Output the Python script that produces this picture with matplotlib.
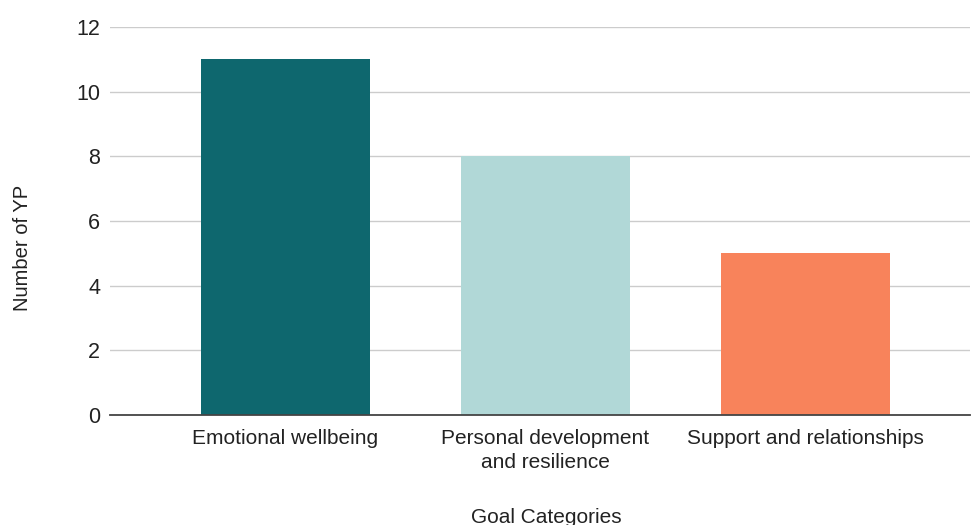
import matplotlib
matplotlib.use("Agg")
import matplotlib.pyplot as plt

categories = ["Emotional wellbeing", "Personal development\nand resilience", "Support and relationships"]
values = [11, 8, 5]
colors = ["#0e676e", "#b1d8d7", "#f8835b"]
yticks = [0, 2, 4, 6, 8, 10, 12]

plt.rcParams['font.family'] = ['Liberation Sans', 'DejaVu Sans']

fig = plt.figure(figsize=(9.72, 5.25), dpi=100)
ax = fig.add_axes([0.1132, 0.2095, 0.8848, 0.7391])

x = list(range(len(categories)))
ax.bar(x, values, width=0.65, color=colors, zorder=3)
ax.set_xlim(-0.675, 2.633)
ax.set_ylim(0, 12)
ax.set_yticks(yticks)
ax.set_yticklabels([str(v) for v in yticks], fontsize=15.5, color="#222222")
ax.set_xticks(x)
ax.set_xticklabels(categories, fontsize=15, color="#222222", linespacing=1.35)
ax.tick_params(axis='both', length=0)
ax.tick_params(axis='y', pad=7)
ax.tick_params(axis='x', pad=10)
ax.grid(axis='y', color="#cccccc", linewidth=1, zorder=0)
for s in ["top", "right", "left"]:
    ax.spines[s].set_visible(False)
ax.spines["bottom"].set_color("#444444")
ax.spines["bottom"].set_linewidth(1.3)
ax.spines["bottom"].set_zorder(4)

ax.set_ylabel("Number of YP", fontsize=14.5, color="#222222", va="center")
ax.yaxis.set_label_coords((22 - 110) / 860, (415 - 248) / 388)
ax.set_xlabel("Goal Categories", fontsize=15, color="#222222", va="center")
ax.xaxis.set_label_coords((546 - 110) / 860, -(517 - 415) / 388)

fig.savefig("out.png", dpi=100)
